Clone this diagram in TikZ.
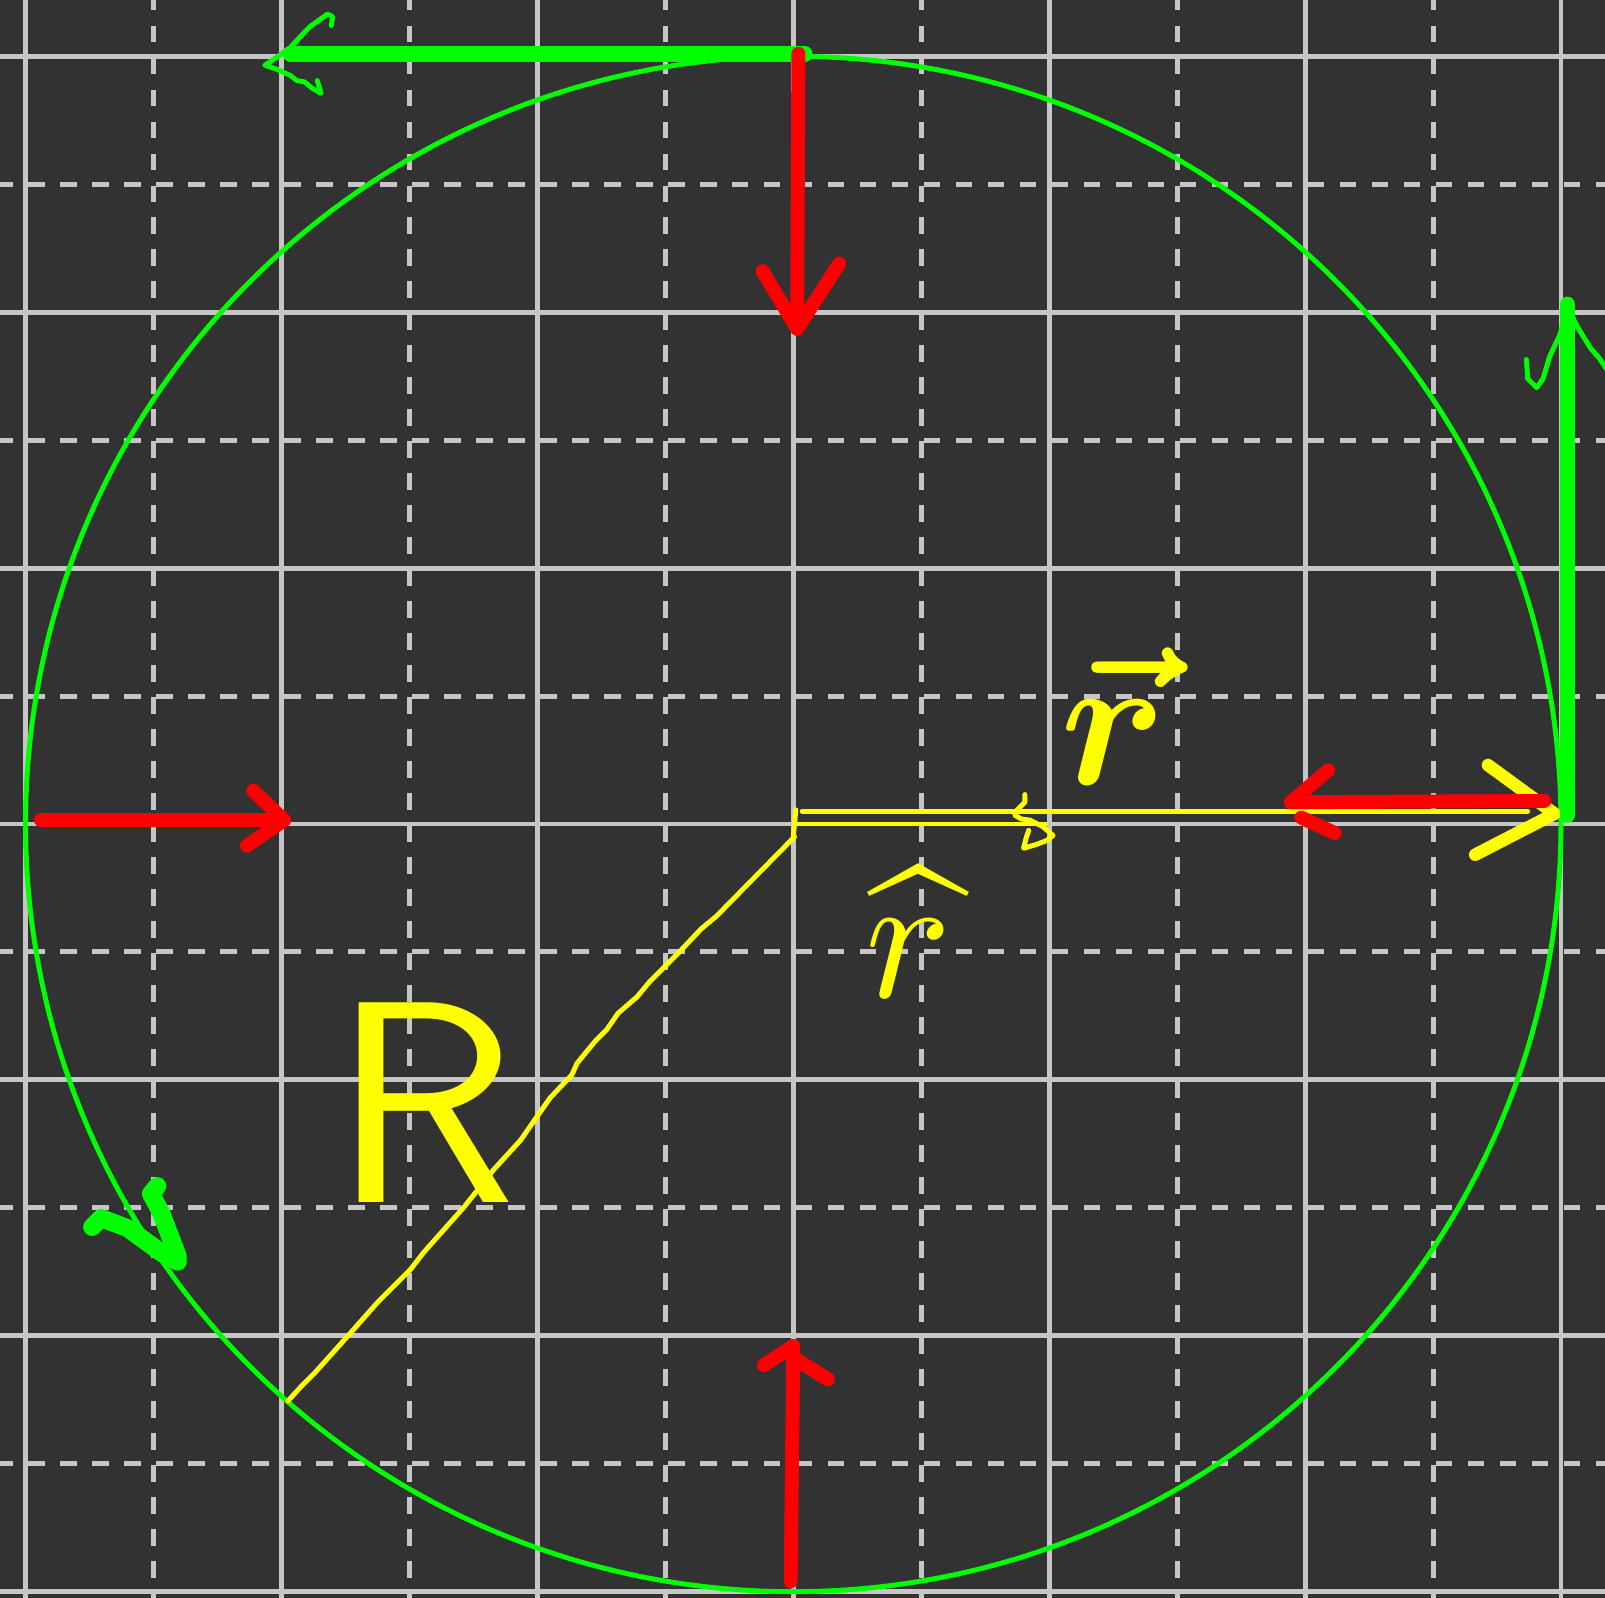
\documentclass[tikz,border=0pt]{standalone}
\usepackage{amsmath, amssymb, xcolor, tikz}
\usetikzlibrary{positioning}
\definecolor{board}{RGB}{50,50,50}
\definecolor{gridgray}{RGB}{198,198,198}
\definecolor{green}{RGB}{0,255,0}
\definecolor{red}{RGB}{255,0,0}
\definecolor{yellow}{RGB}{255,255,0}

\begin{document}
\begin{tikzpicture}[x=1cm, y=1cm,
  major/.style={gridgray, line width=1.1pt},
  minor/.style={gridgray, line width=1.1pt, dash pattern=on 0.13cm off 0.12cm},
  force/.style={red, line width=3.1pt, line cap=round, line join=round},
  vel/.style={green, line width=3.5pt, line cap=round, line join=round},
  thinpen/.style={line width=1.1pt, line cap=round, line join=round},
  every node/.style={inner sep=0pt}]
  \fill[board] (-6.2,-6.048) rectangle (6.344,6.44);
  \useasboundingbox (-6.2,-6.048) rectangle (6.344,6.44);
  \foreach \x in {-5,-3,...,5} \draw[minor] (\x,6.49) -- (\x,-6.1);
  \foreach \y in {-5,-3,...,5} \draw[minor] (-6.23,\y) -- (6.4,\y);
  \foreach \x in {-6,-4,...,6} \draw[major] (\x,-6.1) -- (\x,6.5);
  \foreach \y in {-6,-4,...,6} \draw[major] (-6.3,\y) -- (6.4,\y);

  \coordinate (O) at (0,0);
  \draw[green, line width=1.1pt] (O) circle (6);

  \coordinate (rstart) at (0.07,0.10);
  \coordinate (rend) at (5.74,0.10);
  \coordinate (rtip) at (5.95,0.08);
  \coordinate (ustart) at (0.03,0);
  \coordinate (utip) at (1.97,0);
  \coordinate (rim) at (-3.95,-4.51);
  \draw[yellow, thinpen] (rstart) -- (rend);
  \draw[yellow, thinpen] (ustart) -- (utip);
  \draw[yellow, thinpen] (0.02,0.11) -- (0,-0.10);
  \draw[yellow, thinpen] (1.81,0.23) -- (1.81,0.17) -- (1.74,0.10) -- (1.73,0.07) -- (1.78,0.04) -- (1.85,0.03)
    -- (1.95,-0.02) -- (2.03,-0.09) -- (1.98,-0.13) -- (1.90,-0.16) -- (1.80,-0.19) -- (1.82,-0.11) -- (1.84,-0.05);
  \draw[yellow, line width=2.8pt, line cap=round, line join=round] (5.43,0.46) -- (rtip) -- (5.33,-0.24);
  \draw[yellow, thinpen] (0.01,-0.10) -- (-0.60,-0.72) -- (-0.72,-0.82) -- (-0.89,-1.0) -- (-1.12,-1.23) -- (-1.22,-1.35)
    -- (-1.37,-1.48) -- (-1.46,-1.61) -- (-1.55,-1.70) -- (-1.69,-1.87) -- (-1.73,-1.96) -- (-1.90,-2.14) -- (-2.04,-2.34)
    -- (-2.13,-2.47) -- (-2.34,-2.70) -- (-2.57,-2.99) -- (-2.89,-3.35) -- (-2.99,-3.48) -- (-3.25,-3.74) -- (-3.48,-4.0)
    -- (-3.74,-4.29) -- (-3.85,-4.40) -- (rim);

  \node[text=yellow, scale=4.2] (rlabel) at (2.5,0.84) {$\boldsymbol{\vec{r}}$};
  \node[text=yellow, scale=4] (rhatlabel) at (0.9,-0.85) {$\widehat{r}$};
  \node[text=yellow, scale=6.4, font=\sffamily] (Rlabel) at (-2.88,-2.18) {R};

  \coordinate (vtopS) at (0.09,6.02);
  \coordinate (vtopE) at (-3.93,6.02);
  \draw[vel] (vtopS) -- (vtopE);
  \draw[green, thinpen] (-3.61,6.24) -- (-3.60,6.31) -- (-3.64,6.33) -- (-3.78,6.23) -- (-3.93,6.07) -- (-4.04,5.99)
    -- (-4.13,5.93) -- (-4.04,5.90) -- (-3.93,5.85) -- (-3.88,5.81) -- (-3.82,5.80) -- (-3.76,5.75) -- (-3.69,5.71) -- (-3.72,5.81);

  \coordinate (vrS) at (6.05,0.07);
  \coordinate (vrE) at (6.05,4.06);
  \draw[vel] (vrS) -- (vrE);
  \draw[green, thinpen] (5.73,3.63) -- (5.74,3.48) -- (5.81,3.41) -- (5.86,3.48) -- (5.91,3.65) -- (5.99,3.82) -- (6.06,4.06)
    -- (6.10,3.94) -- (6.15,3.85) -- (6.23,3.72) -- (6.30,3.64) -- (6.36,3.55);

  \draw[vel, line width=4pt] (-5.48,-3.15) -- (-5.41,-3.08) -- (-5.20,-3.16) -- (-4.94,-3.35) -- (-4.81,-3.42);
  \draw[vel, line width=4pt] (-4.97,-2.83) -- (-5.02,-2.89) -- (-4.94,-3.04) -- (-4.81,-3.38);

  \coordinate (ftopS) at (0.04,6.02);
  \coordinate (ftopE) at (0.03,3.87);
  \draw[force] (ftopS) -- (ftopE);
  \draw[force] (-0.24,4.32) -- (ftopE) -- (0.36,4.38);

  \coordinate (frS) at (5.87,0.18);
  \coordinate (frE) at (3.89,0.17);
  \draw[force] (frS) -- (frE);
  \draw[force] (4.18,0.42) -- (frE);
  \draw[force] (3.97,0.05) -- (4.23,-0.07);

  \coordinate (flS) at (-5.88,0.03);
  \coordinate (flE) at (-3.98,0.03);
  \draw[force] (flS) -- (flE);
  \draw[force] (-4.22,0.26) -- (flE) -- (-4.27,-0.17);

  \coordinate (fbS) at (-0.02,-5.92);
  \coordinate (fbE) at (0,-4.08);
  \draw[force] (fbS) -- (fbE);
  \draw[force] (-0.23,-4.23) -- (fbE);
  \draw[force] (0.03,-4.19) -- (0.27,-4.34);
\end{tikzpicture}
\end{document}
